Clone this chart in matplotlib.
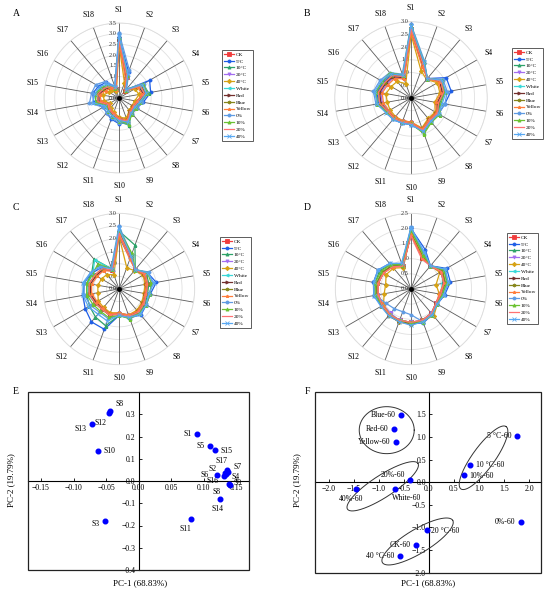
import numpy as np
import matplotlib
matplotlib.use("Agg")
from matplotlib import pyplot as plt
from matplotlib.lines import Line2D

plt.rcParams["font.family"] = ["Liberation Serif", "DejaVu Serif"]

# ---------------- data ----------------
variables = ["S%d" % i for i in range(1, 19)]
series = ["CK", "5\u00b0C", "10\u00b0C", "20\u00b0C", "40\u00b0C", "White", "Red", "Blue",
          "Yellow", "0%", "10%", "20%", "40%"]

values_A = [
    [2.75, 1.05, 0.45, 1.15, 1.25, 0.95, 0.80, 0.85, 1.15, 1.00, 0.85, 0.75, 0.65, 1.00, 1.00, 0.85, 0.70, 0.45],
    [2.85, 1.30, 0.50, 1.65, 1.50, 1.15, 0.95, 0.95, 1.20, 1.20, 1.05, 0.90, 0.85, 1.20, 1.25, 1.10, 0.95, 0.55],
    [2.80, 1.15, 0.50, 1.30, 1.40, 1.05, 0.90, 0.90, 1.35, 1.10, 0.90, 0.80, 0.70, 1.10, 1.15, 0.95, 0.80, 0.50],
    [2.70, 1.00, 0.45, 1.10, 1.20, 0.90, 0.80, 0.80, 1.10, 0.95, 0.80, 0.70, 0.60, 0.95, 0.95, 0.80, 0.65, 0.45],
    [2.50, 0.75, 0.40, 0.85, 0.95, 0.75, 0.70, 0.75, 1.00, 0.90, 0.70, 0.60, 0.50, 0.70, 0.75, 0.55, 0.50, 0.35],
    [2.75, 1.05, 0.45, 1.10, 1.20, 0.90, 0.80, 0.85, 1.15, 1.00, 0.80, 0.70, 0.60, 1.00, 1.00, 0.85, 0.70, 0.45],
    [2.70, 1.00, 0.45, 1.05, 1.15, 0.90, 0.75, 0.80, 1.10, 0.95, 0.80, 0.70, 0.60, 0.95, 0.95, 0.80, 0.65, 0.45],
    [2.80, 1.05, 0.45, 1.20, 1.25, 0.95, 0.85, 0.85, 1.20, 1.05, 0.85, 0.75, 0.65, 1.00, 1.05, 0.85, 0.70, 0.45],
    [2.65, 0.90, 0.45, 1.00, 1.10, 0.85, 0.75, 0.80, 1.10, 0.95, 0.75, 0.65, 0.55, 0.85, 0.90, 0.70, 0.60, 0.40],
    [3.05, 1.40, 0.55, 1.35, 1.35, 1.10, 0.95, 0.90, 1.25, 1.15, 1.00, 0.90, 0.85, 1.40, 1.30, 1.25, 1.00, 0.60],
    [2.85, 1.15, 0.50, 1.30, 1.35, 1.00, 0.90, 0.95, 1.30, 1.05, 0.90, 0.80, 0.70, 1.10, 1.10, 0.95, 0.80, 0.50],
    [2.75, 1.05, 0.45, 1.15, 1.20, 0.90, 0.80, 0.85, 1.15, 1.00, 0.80, 0.70, 0.60, 1.00, 1.00, 0.85, 0.70, 0.45],
    [2.90, 1.20, 0.50, 1.25, 1.30, 1.00, 0.85, 0.90, 1.20, 1.05, 0.90, 0.80, 0.75, 1.25, 1.15, 1.05, 0.85, 0.55],
]

values_B = [
    [2.70, 1.40, 1.00, 1.35, 1.30, 1.10, 1.20, 1.15, 1.35, 1.00, 1.00, 1.05, 1.05, 1.25, 1.30, 1.20, 1.15, 0.90],
    [2.65, 1.45, 1.00, 1.60, 1.60, 1.35, 1.25, 1.20, 1.40, 1.05, 1.05, 1.10, 1.10, 1.30, 1.35, 1.25, 1.20, 0.85],
    [2.80, 1.50, 1.00, 1.40, 1.35, 1.15, 1.25, 1.20, 1.45, 1.00, 1.00, 1.05, 1.10, 1.35, 1.40, 1.30, 1.25, 0.90],
    [2.60, 1.35, 1.00, 1.30, 1.25, 1.05, 1.15, 1.10, 1.30, 0.95, 0.95, 1.00, 1.00, 1.15, 1.20, 1.10, 1.05, 0.80],
    [2.50, 1.15, 0.95, 1.20, 1.15, 0.95, 1.10, 1.05, 1.25, 0.95, 0.95, 0.95, 0.95, 0.95, 1.00, 0.90, 0.85, 0.60],
    [2.70, 1.40, 1.00, 1.35, 1.30, 1.10, 1.20, 1.15, 1.35, 1.00, 1.00, 1.05, 1.05, 1.25, 1.30, 1.20, 1.15, 0.90],
    [2.65, 1.35, 1.00, 1.30, 1.25, 1.05, 1.15, 1.10, 1.30, 1.00, 1.00, 1.00, 1.05, 1.20, 1.25, 1.15, 1.10, 0.85],
    [2.75, 1.40, 1.00, 1.35, 1.30, 1.10, 1.20, 1.15, 1.35, 1.00, 1.00, 1.05, 1.05, 1.25, 1.30, 1.20, 1.15, 0.90],
    [2.60, 1.30, 1.00, 1.25, 1.20, 1.00, 1.15, 1.10, 1.30, 0.95, 0.95, 1.00, 1.00, 1.10, 1.15, 1.05, 1.00, 0.80],
    [2.90, 1.55, 1.00, 1.45, 1.45, 1.35, 1.25, 1.20, 1.40, 1.05, 1.05, 1.10, 1.10, 1.40, 1.50, 1.40, 1.30, 1.00],
    [2.85, 1.50, 1.00, 1.40, 1.35, 1.20, 1.30, 1.25, 1.50, 1.00, 1.00, 1.05, 1.10, 1.35, 1.40, 1.30, 1.30, 0.95],
    [2.70, 1.40, 1.00, 1.35, 1.30, 1.10, 1.20, 1.15, 1.35, 1.00, 1.00, 1.05, 1.05, 1.25, 1.30, 1.20, 1.15, 0.90],
    [2.85, 1.50, 1.00, 1.40, 1.40, 1.25, 1.25, 1.20, 1.40, 1.05, 1.05, 1.10, 1.15, 1.35, 1.45, 1.35, 1.25, 0.95],
]

values_C = [
    [2.20, 1.35, 1.00, 1.20, 1.15, 1.10, 1.15, 1.20, 1.15, 1.00, 1.10, 1.05, 1.10, 1.20, 1.20, 1.10, 1.05, 0.80],
    [2.05, 1.30, 1.00, 1.30, 1.50, 1.25, 1.25, 1.35, 1.20, 1.05, 1.70, 1.70, 1.55, 1.45, 1.40, 1.25, 1.10, 0.75],
    [2.30, 1.85, 1.00, 1.25, 1.20, 1.15, 1.20, 1.25, 1.20, 1.05, 1.55, 1.45, 1.35, 1.30, 1.30, 1.25, 1.55, 0.85],
    [2.15, 1.30, 1.00, 1.15, 1.10, 1.05, 1.10, 1.15, 1.10, 0.95, 1.05, 1.00, 1.05, 1.15, 1.15, 1.05, 1.00, 0.75],
    [2.10, 0.90, 0.95, 1.10, 1.05, 1.00, 1.05, 1.10, 1.10, 0.95, 1.00, 0.95, 0.95, 0.85, 0.85, 0.80, 0.75, 0.60],
    [2.25, 1.40, 1.00, 1.20, 1.15, 1.10, 1.15, 1.20, 1.15, 1.00, 1.10, 1.05, 1.10, 1.25, 1.25, 1.20, 1.50, 0.85],
    [2.20, 1.35, 1.00, 1.15, 1.10, 1.05, 1.10, 1.15, 1.15, 1.00, 1.05, 1.00, 1.05, 1.15, 1.15, 1.05, 1.00, 0.80],
    [2.25, 1.40, 1.00, 1.20, 1.15, 1.10, 1.15, 1.20, 1.15, 1.00, 1.10, 1.05, 1.10, 1.20, 1.20, 1.10, 1.05, 0.80],
    [2.15, 1.25, 1.00, 1.15, 1.10, 1.05, 1.10, 1.15, 1.10, 0.95, 1.05, 1.00, 1.00, 1.10, 1.10, 1.00, 0.95, 0.75],
    [2.50, 1.45, 1.00, 1.35, 1.35, 1.20, 1.25, 1.30, 1.25, 1.05, 1.25, 1.20, 1.30, 1.40, 1.40, 1.30, 1.20, 0.90],
    [2.35, 1.50, 1.00, 1.30, 1.30, 1.25, 1.25, 1.25, 1.25, 1.05, 1.20, 1.15, 1.20, 1.30, 1.30, 1.20, 1.30, 0.85],
    [2.20, 1.35, 1.00, 1.20, 1.15, 1.10, 1.15, 1.20, 1.15, 1.00, 1.10, 1.05, 1.10, 1.20, 1.20, 1.10, 1.05, 0.80],
    [2.40, 1.40, 1.00, 1.30, 1.40, 1.20, 1.25, 1.30, 1.20, 1.05, 1.35, 1.30, 1.40, 1.45, 1.45, 1.30, 1.15, 0.85],
]

values_D = [
    [1.80, 1.10, 1.00, 1.20, 1.15, 1.00, 0.95, 1.05, 1.10, 1.10, 1.10, 1.10, 1.10, 1.15, 1.15, 1.10, 1.00, 0.80],
    [2.00, 1.38, 1.00, 1.36, 1.32, 1.13, 1.00, 1.10, 1.19, 1.15, 1.12, 1.10, 1.12, 1.25, 1.26, 1.26, 1.09, 0.85],
    [1.95, 1.25, 1.00, 1.30, 1.20, 1.05, 1.00, 1.10, 1.15, 1.15, 1.10, 1.10, 1.10, 1.15, 1.20, 1.20, 1.05, 0.85],
    [1.80, 1.10, 1.00, 1.15, 1.10, 0.95, 0.95, 1.05, 1.10, 1.10, 1.10, 1.05, 1.05, 1.10, 1.10, 1.05, 0.95, 0.80],
    [1.85, 1.10, 1.00, 1.10, 0.84, 0.95, 1.00, 1.17, 1.10, 1.15, 1.17, 1.10, 1.05, 0.90, 0.85, 0.95, 0.90, 0.75],
    [1.85, 1.15, 1.00, 1.20, 1.05, 1.00, 0.95, 1.05, 1.10, 1.10, 1.10, 1.10, 1.10, 1.15, 1.15, 1.10, 1.00, 0.80],
    [1.80, 1.10, 1.00, 1.15, 1.10, 1.00, 0.95, 1.05, 1.10, 1.15, 1.15, 1.15, 1.10, 1.10, 1.10, 1.05, 1.00, 0.80],
    [1.85, 1.15, 1.00, 1.20, 1.15, 1.00, 0.95, 1.10, 1.10, 1.15, 1.15, 1.15, 1.10, 1.15, 1.15, 1.10, 1.00, 0.80],
    [1.80, 1.10, 1.00, 1.15, 1.10, 0.95, 0.95, 1.05, 1.10, 1.10, 1.10, 1.10, 1.05, 1.10, 1.10, 1.05, 0.95, 0.80],
    [2.05, 1.25, 1.00, 1.30, 1.25, 1.10, 1.00, 1.05, 1.15, 0.85, 0.80, 0.85, 0.95, 1.20, 1.25, 1.25, 1.10, 0.90],
    [1.95, 1.20, 1.00, 1.25, 1.20, 1.05, 1.00, 1.10, 1.15, 1.10, 1.10, 1.10, 1.10, 1.20, 1.20, 1.15, 1.05, 0.85],
    [1.75, 1.05, 1.00, 1.15, 1.10, 1.00, 0.95, 1.05, 1.10, 1.10, 1.10, 1.10, 1.10, 1.10, 1.10, 1.05, 0.95, 0.80],
    [2.00, 1.30, 1.00, 1.30, 1.25, 1.10, 1.00, 1.10, 1.15, 1.20, 1.15, 1.15, 1.15, 1.25, 1.25, 1.25, 1.10, 0.90],
]

# PCA loadings (E)
load_labels = ["S8", "S12", "S13", "S10", "S3", "S1", "S5", "S15", "S17", "S7", "S2", "S6",
               "S16", "S4", "S8", "S9", "S14", "S11"]
load_x = [-0.044, -0.046, -0.0715, -0.063, -0.051, 0.090, 0.110, 0.118, 0.136, 0.137, 0.133,
          0.121, 0.132, 0.134, 0.139, 0.140, 0.126, 0.081]
load_y = [0.315, 0.305, 0.258, 0.137, -0.182, 0.211, 0.158, 0.139, 0.048, 0.042, 0.036,
          0.029, 0.024, 0.030, -0.012, -0.017, -0.083, -0.173]

# PCA scores (F)
score_labels = ["Blue-60", "Red-60", "Yellow-60", "5 \u00b0C-60", "10 \u00b0C-60", "10%-60",
                "20%-60", "40%-60", "White-60", "0%-60", "20 \u00b0C-60", "CK-60", "40 \u00b0C-60"]
score_x = [-0.56, -0.69, -0.65, 1.75, 0.82, 0.70, -0.37, -1.46, -0.68, 1.83, -0.04, -0.25, -0.58]
score_y = [1.49, 1.17, 0.89, 1.01, 0.37, 0.17, 0.04, -0.16, -0.16, -0.89, -1.05, -1.39, -1.62]

# ---------------- styles ----------------
colors = ["#f03c3c", "#1f5ee6", "#2ea36a", "#a46ef0", "#d6a214", "#3ad8d8", "#73302e",
          "#86861a", "#ff7d3a", "#5f9be3", "#6cc232", "#ff7272", "#58a8f2"]
markers = ["s", "o", "^", "v", "D", "<", ">", "h", "*", "o", "^", "", "x"]

fig = plt.figure(figsize=(5.5, 5.94), dpi=100)
W, H = 550.0, 594.0


def radar(cx, cy, rad, rmax, vals, leg_box, letter, lpos):
    ax = fig.add_axes([(cx - rad) / W, 1 - (cy + rad) / H, 2 * rad / W, 2 * rad / H],
                      projection="polar")
    ax.set_theta_zero_location("N")
    ax.set_theta_direction(-1)
    ax.set_ylim(0, rmax)
    ax.set_xticks([])
    ax.set_yticks([])
    ax.grid(False)
    ax.spines["polar"].set_color("#dcdcdc")
    ax.spines["polar"].set_linewidth(0.6)
    ax.patch.set_alpha(0)
    ring = np.linspace(0, 2 * np.pi, 300)
    ticks = np.arange(0, rmax + 0.01, 0.5)
    for r in ticks[1:]:
        ax.plot(ring, np.full_like(ring, r), color="#e0e0e0", lw=0.6, zorder=1)
    angles = np.linspace(0, 2 * np.pi, len(variables), endpoint=False)
    for th in angles:
        ax.plot([th, th], [0, rmax], color="#5a5a5a", lw=0.6, zorder=2)
    for th, name in zip(angles, variables):
        ax.text(th, rmax * 1.175, name, ha="center", va="center", fontsize=5.6)
    for r in ticks:
        ax.annotate("%.1f" % r, xy=(0, r), xytext=(-1.5, 0), textcoords="offset points",
                    ha="right", va="center", fontsize=4.5, color="#333333", zorder=3)
    closed = np.append(angles, angles[0])
    handles = []
    for i, v in enumerate(vals):
        vv = np.append(v, v[0])
        ax.plot(closed, vv, color=colors[i], lw=0.9, marker=markers[i], ms=2.2,
                mew=0.6, zorder=5 + i)
        handles.append(Line2D([], [], color=colors[i], lw=0.9, marker=markers[i],
                              ms=2.2, mew=0.6))
    ax.plot([0], [0], "o", color="black", ms=2.5, zorder=30)
    x0, y0, x1, y1 = leg_box
    leg = fig.legend(handles, series, loc="upper left",
                     bbox_to_anchor=(x0 / W, 1 - y0 / H), fontsize=3.9, frameon=True,
                     fancybox=False, handlelength=1.9, handletextpad=0.3,
                     labelspacing=0.38, borderpad=0.35, borderaxespad=0)
    leg.get_frame().set_edgecolor("#333333")
    leg.get_frame().set_linewidth(0.7)
    fig.text(lpos[0] / W, 1 - lpos[1] / H, letter, fontsize=7, ha="left", va="center")
    return ax


radar(119, 98, 75, 3.5, values_A, (222, 50, 255, 146), "A", (13, 13))
radar(411, 98, 76.3, 3.0, values_B, (512, 48, 544, 142), "B", (304, 13))
radar(119, 289, 75.7, 3.0, values_C, (220, 237, 253, 332), "C", (13, 208))
radar(411, 289, 75.7, 2.5, values_D, (507, 233, 541, 328), "D", (304, 208))


def centered_axes(rect):
    ax = fig.add_axes(rect)
    for s in ["top", "right"]:
        ax.spines[s].set_visible(False)
    ax.spines["left"].set_position(("data", 0))
    ax.spines["bottom"].set_position(("data", 0))
    ax.spines["left"].set_linewidth(0.8)
    ax.spines["bottom"].set_linewidth(0.8)
    ax.add_patch(plt.Rectangle((0, 0), 1, 1, transform=ax.transAxes, fill=False,
                               lw=0.9, ec="#222222", clip_on=False, zorder=10))
    ax.tick_params(labelsize=5.6, length=2, width=0.6, direction="in", pad=2)
    return ax


# ---- E ----
axE = centered_axes([28 / W, 1 - 570 / H, 221 / W, 178 / H])
axE.set_xlim(-0.17, 0.17)
axE.set_ylim(-0.4, 0.4)
axE.set_xticks([-0.15, -0.10, -0.05, 0.00, 0.05, 0.10, 0.15])
axE.set_xticklabels(["\u22120.15", "\u22120.10", "\u22120.05", "0.00", "0.05", "0.10", "0.15"])
axE.set_yticks([-0.4, -0.3, -0.2, -0.1, 0.0, 0.1, 0.2, 0.3])
axE.set_yticklabels(["\u22120.4", "\u22120.3", "\u22120.2", "\u22120.1", "0.0", "0.1", "0.2", "0.3"])
axE.scatter(load_x, load_y, s=11, color="#0000ff", zorder=5)
offE = [(4, 5, "left"), (-6, -7, "center"), (-4, -4, "right"), (4, 0, "left"), (-4, -2, "right"),
        (-4, 0, "right"), (-4, 0, "right"), (4, -1, "left"), (-4, 7, "center"), (4, 3, "left"),
        (-6, 3, "right"), (-6, 0, "right"), (-4, -4, "right"), (4, -2, "left"), (-6, -6, "right"),
        (3, 1, "left"), (-2, -7, "center"), (-4, -7, "center")]
for lab, x, y, (dx, dy, ha) in zip(load_labels, load_x, load_y, offE):
    axE.annotate(lab, (x, y), xytext=(dx, dy), textcoords="offset points", ha=ha,
                 va="center", fontsize=5.6)
fig.text(140 / W, 1 - 583 / H, "PC-1 (68.83%)", fontsize=6.5, ha="center", va="center")
fig.text(11 / W, 1 - 480 / H, "PC-2 (19.79%)", fontsize=6.5, ha="center", va="center",
         rotation=90)
fig.text(13 / W, 1 - 392 / H, "E", fontsize=7, ha="left", va="center")

# ---- F ----
axF = centered_axes([315 / W, 1 - 572.7 / H, 225.7 / W, 181 / H])
axF.set_xlim(-2.27, 2.23)
axF.set_ylim(-2.0, 2.0)
xt = [-2.0, -1.5, -1.0, -0.5, 0.0, 0.5, 1.0, 1.5, 2.0]
axF.set_xticks(xt)
axF.set_xticklabels([("%.1f" % t).replace("-", "\u2212") for t in xt])
yt = [-2.0, -1.5, -1.0, -0.5, 0.0, 0.5, 1.0, 1.5]
axF.set_yticks(yt)
axF.set_yticklabels([("%.1f" % t).replace("-", "\u2212") for t in yt])
axF.scatter(score_x, score_y, s=11, color="#0000ff", zorder=5)
offF = [(-4, 0, "right"), (-4, 0, "right"), (-4, 0, "right"), (-4, 0, "right"), (4, 0, "left"),
        (4, -1, "left"), (-4, 4, "right"), (-3, -7, "center"), (-2, -6, "left"),
        (-4, 0, "right"), (3, -1, "left"), (-4, 0, "right"), (-4, 0, "right")]
for lab, x, y, (dx, dy, ha) in zip(score_labels, score_x, score_y, offF):
    axF.annotate(lab, (x, y), xytext=(dx, dy), textcoords="offset points", ha=ha,
                 va="center", fontsize=5.6)

# ellipses drawn in pixel space (center in data, half axes in px, angle in deg)
sx = 225.7 / (2.23 + 2.27)
sy = 181.0 / 4.0
ell = [(-0.84, 1.15, 27.5, 23.5, 0), (-0.92, -0.09, 42, 11, 33),
       (1.09, 0.54, 38.5, 11, 54), (-0.225, -1.31, 41, 12, 31)]
t = np.linspace(0, 2 * np.pi, 200)
for ex, ey, a, b, ang in ell:
    ph = np.radians(ang)
    px = a * np.cos(t) * np.cos(ph) - b * np.sin(t) * np.sin(ph)
    py = a * np.cos(t) * np.sin(ph) + b * np.sin(t) * np.cos(ph)
    axF.plot(ex + px / sx, ey + py / sy, color="#333333", lw=0.7, zorder=4)

fig.text(428 / W, 1 - 583 / H, "PC-1 (68.83%)", fontsize=6.5, ha="center", va="center")
fig.text(297 / W, 1 - 480 / H, "PC-2 (19.79%)", fontsize=6.5, ha="center", va="center",
         rotation=90)
fig.text(305 / W, 1 - 392 / H, "F", fontsize=7, ha="left", va="center")

fig.savefig("out.png", dpi=100)
